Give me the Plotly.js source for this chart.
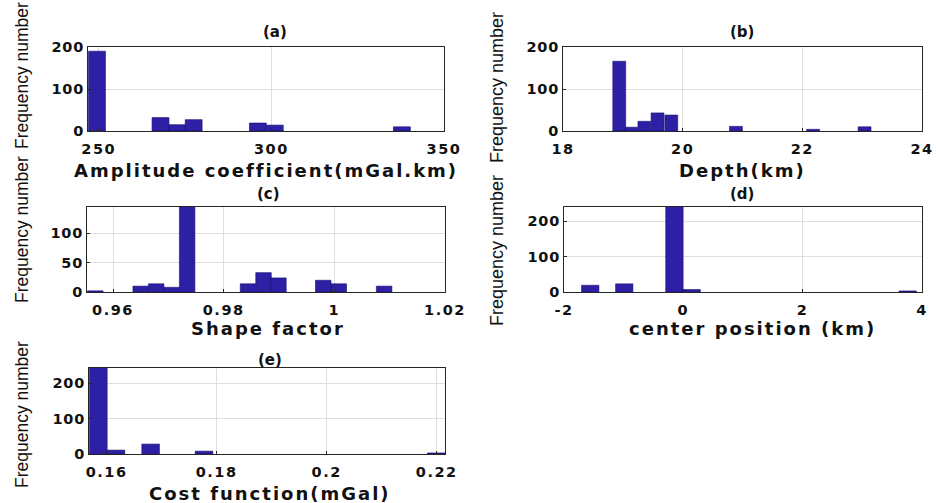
<!DOCTYPE html>
<html>
<head>
<meta charset="utf-8">
<script src="https://cdn.plot.ly/plotly-3.0.1.min.js"></script>
<style>
html,body{margin:0;padding:0;background:#fff;}
#chart{width:936px;height:503px;}
.xaxislayer-above text{letter-spacing:1.5px;}
.yaxislayer-above text{letter-spacing:0.8px;}
</style>
</head>
<body>
<div id="chart"></div>
<script>
// ---- data (bin centres and frequency counts) ----
const ampCenters   = [249.5, 267.9, 272.8, 277.5, 296.1, 301.0, 337.8];
const ampCounts    = [190, 32, 15, 27, 19, 14, 10];

const depthCenters = [18.94, 19.14, 19.36, 19.58, 19.81, 20.89, 22.18, 23.04];
const depthCounts  = [166, 9, 23, 43, 38, 11, 4, 10];

const shapeCenters = [0.9568, 0.9650, 0.9678, 0.9706, 0.9734, 0.9844, 0.9872, 0.9899, 0.9980, 1.0008, 1.0090];
const shapeCounts  = [2, 10, 14, 8, 150, 14, 33, 24, 20, 14, 10];

const posCenters   = [-1.56, -0.99, -0.15, 0.14, 3.76];
const posCounts    = [19, 23, 248, 7, 3];

const costCenters  = [0.1585, 0.1617, 0.1680, 0.1777, 0.2199];
const costCounts   = [245, 11, 28, 8, 3];

const panelTitles  = ["(a)", "(b)", "(c)", "(d)", "(e)"];
const xTitles      = ["Amplitude coefficient(mGal.km)", "Depth(km)", "Shape factor", "center position (km)", "Cost function(mGal)"];
const yTitle       = "Frequency number";

const xTickVals = [[250, 300, 350], [18, 20, 22, 24], [0.96, 0.98, 1, 1.02], [-2, 0, 2, 4], [0.16, 0.18, 0.2, 0.22]];
const xTickText = [["250", "300", "350"], ["18", "20", "22", "24"], ["0.96", "0.98", "1", "1.02"], ["-2", "0", "2", "4"], ["0.16", "0.18", "0.2", "0.22"]];
const yTickVals = [[0, 100, 200], [0, 100, 200], [0, 50, 100], [0, 100, 200], [0, 100, 200]];
const yTickText = [["0", "100", "200"], ["0", "100", "200"], ["0", "50", "100"], ["0", "100", "200"], ["0", "100", "200"]];

// ---- styling / layout ----
const W = 936, H = 503;
const barColor = "rgb(46,32,165)";
const barLine = "rgb(25,15,110)";
const tickFont = {family: "DejaVu Sans", size: 14.5, color: "#111", weight: "bold"};

const series = [
  [ampCenters, ampCounts, 4.9],
  [depthCenters, depthCounts, 0.215],
  [shapeCenters, shapeCounts, 0.0028],
  [posCenters, posCounts, 0.29],
  [costCenters, costCounts, 0.0032]
];
// pixel boxes [left, right, top, bottom]
const boxes = [
  [88, 444, 47, 131],
  [563, 922, 47, 131],
  [87, 445, 207, 292],
  [564, 922, 207, 292],
  [89, 445, 368, 454]
];
const xRanges = [[246.9, 350], [18, 24], [0.9553, 1.02], [-2, 4], [0.1568, 0.2215]];
const yRanges = [[0, 200], [0, 200], [0, 145], [0, 240], [0, 243]];

const px = v => v / W;
const py = v => 1 - v / H;

const data = [];
const layout = {
  width: W, height: H,
  margin: {l: 0, r: 0, t: 0, b: 0},
  paper_bgcolor: "#fff",
  plot_bgcolor: "#fff",
  showlegend: false,
  annotations: []
};

series.forEach((s, i) => {
  const k = i === 0 ? "" : String(i + 1);
  data.push({
    type: "bar",
    x: s[0], y: s[1], width: s[2],
    xaxis: "x" + k, yaxis: "y" + k,
    marker: {color: barColor, line: {color: barLine, width: 0.6}},
    hoverinfo: "x+y"
  });
  const b = boxes[i];
  layout["xaxis" + k] = {
    domain: [px(b[0]), px(b[1])],
    anchor: "y" + k,
    range: xRanges[i],
    tickmode: "array", tickvals: xTickVals[i], ticktext: xTickText[i],
    showgrid: true, gridcolor: "#dedede", gridwidth: 1,
    zeroline: false,
    showline: true, mirror: true, linecolor: "#262626", linewidth: 1,
    ticks: "inside", ticklen: 3, tickcolor: "#262626",
    tickfont: tickFont,
    ticklabelstandoff: 5,
    fixedrange: true
  };
  layout["yaxis" + k] = {
    domain: [py(b[3]), py(b[2])],
    anchor: "x" + k,
    range: yRanges[i],
    tickmode: "array", tickvals: yTickVals[i], ticktext: yTickText[i],
    showgrid: true, gridcolor: "#dedede", gridwidth: 1,
    zeroline: false,
    showline: true, mirror: true, linecolor: "#262626", linewidth: 1,
    ticks: "inside", ticklen: 3, tickcolor: "#262626",
    tickfont: tickFont,
    ticklabelstandoff: 0,
    fixedrange: true
  };
});

// panel titles
const titlePos = [[275, 32], [742, 32], [268, 194], [742, 194], [270, 360]];
panelTitles.forEach((t, i) => {
  layout.annotations.push({
    text: t, xref: "paper", yref: "paper",
    x: px(titlePos[i][0]), y: py(titlePos[i][1]),
    xanchor: "center", yanchor: "middle", showarrow: false,
    font: {family: "DejaVu Sans", size: 15, color: "#111", weight: "bold"}
  });
});
// x-axis titles
const xtPos = [[266, 170], [742, 170], [268, 328], [752, 328], [270, 493]];
xTitles.forEach((t, i) => {
  layout.annotations.push({
    text: '<span style="letter-spacing:2px">' + t + '</span>',
    xref: "paper", yref: "paper",
    x: px(xtPos[i][0]), y: py(xtPos[i][1]),
    xanchor: "center", yanchor: "middle", showarrow: false,
    font: {family: "DejaVu Sans", size: 18, color: "#111", weight: "bold"}
  });
});
// y-axis titles
const ytPos = [[22, 76, 17.5], [497, 88, 18], [22, 230, 17.5], [497, 251, 18], [22, 415, 17.5]];
ytPos.forEach(p => {
  layout.annotations.push({
    text: yTitle, xref: "paper", yref: "paper",
    x: px(p[0]), y: py(p[1]),
    xanchor: "center", yanchor: "middle", showarrow: false, textangle: -90,
    font: {family: "Liberation Sans", size: p[2], color: "#111"}
  });
});

Plotly.newPlot("chart", data, layout, {displayModeBar: false, staticPlot: true});
</script>
</body>
</html>
